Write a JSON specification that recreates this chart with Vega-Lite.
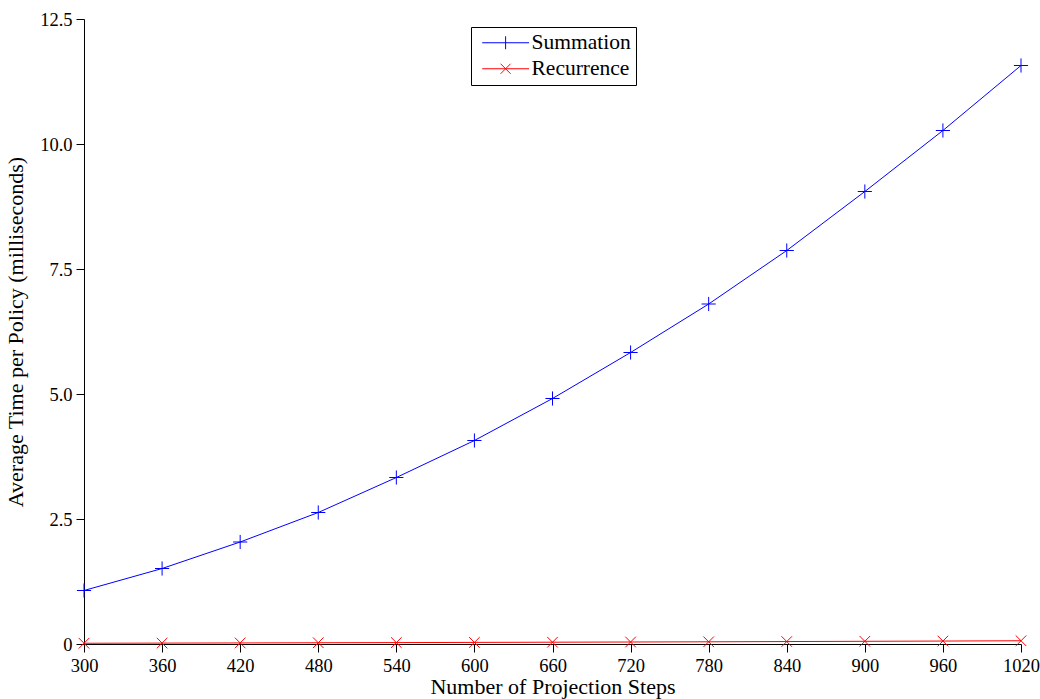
{
  "$schema": "https://vega.github.io/schema/vega-lite/v6.json",
  "width": 937,
  "height": 625,
  "autosize": {"type": "none"},
  "padding": {"left": 84, "top": 19, "right": 19, "bottom": 55},
  "background": "white",
  "config": {
    "view": {"stroke": null},
    "font": "Liberation Serif",
    "legend": {"labelFont": "Liberation Serif", "labelFontSize": 21.5, "labelColor": "black"},
    "axis": {
      "grid": false,
      "domainColor": "black",
      "tickColor": "black",
      "labelColor": "black",
      "titleColor": "black",
      "labelFont": "Liberation Serif",
      "titleFont": "Liberation Serif",
      "labelFontSize": 18.5,
      "titleFontSize": 22,
      "titleFontWeight": "normal",
      "tickSize": 8,
      "domainWidth": 1,
      "tickWidth": 1
    }
  },
  "data": {
    "values": [
      {"steps": 300, "series": "Summation", "time": 1.07},
      {"steps": 360, "series": "Summation", "time": 1.51},
      {"steps": 420, "series": "Summation", "time": 2.04},
      {"steps": 480, "series": "Summation", "time": 2.63},
      {"steps": 540, "series": "Summation", "time": 3.33},
      {"steps": 600, "series": "Summation", "time": 4.07},
      {"steps": 660, "series": "Summation", "time": 4.91},
      {"steps": 720, "series": "Summation", "time": 5.83},
      {"steps": 780, "series": "Summation", "time": 6.80},
      {"steps": 840, "series": "Summation", "time": 7.87},
      {"steps": 900, "series": "Summation", "time": 9.05},
      {"steps": 960, "series": "Summation", "time": 10.27},
      {"steps": 1020, "series": "Summation", "time": 11.57},
      {"steps": 300, "series": "Recurrence", "time": 0.015},
      {"steps": 360, "series": "Recurrence", "time": 0.018},
      {"steps": 420, "series": "Recurrence", "time": 0.021},
      {"steps": 480, "series": "Recurrence", "time": 0.025},
      {"steps": 540, "series": "Recurrence", "time": 0.028},
      {"steps": 600, "series": "Recurrence", "time": 0.032},
      {"steps": 660, "series": "Recurrence", "time": 0.036},
      {"steps": 720, "series": "Recurrence", "time": 0.040},
      {"steps": 780, "series": "Recurrence", "time": 0.044},
      {"steps": 840, "series": "Recurrence", "time": 0.049},
      {"steps": 900, "series": "Recurrence", "time": 0.054},
      {"steps": 960, "series": "Recurrence", "time": 0.059},
      {"steps": 1020, "series": "Recurrence", "time": 0.065}
    ]
  },
  "encoding": {
    "x": {
      "field": "steps",
      "type": "quantitative",
      "scale": {"domain": [300, 1020], "nice": false, "zero": false},
      "axis": {
        "values": [300, 360, 420, 480, 540, 600, 660, 720, 780, 840, 900, 960, 1020],
        "title": "Number of Projection Steps",
        "format": "d",
        "labelPadding": 4,
        "titlePadding": 2,
        "labelFlush": false,
        "labelOverlap": false
      }
    },
    "y": {
      "field": "time",
      "type": "quantitative",
      "scale": {"domain": [0, 12.5], "nice": false},
      "axis": {
        "values": [0, 2.5, 5, 7.5, 10, 12.5],
        "labelExpr": "datum.value == 0 ? '0' : format(datum.value, '.1f')",
        "title": "Average Time per Policy (milliseconds)",
        "labelPadding": 4,
        "titlePadding": 12,
        "labelFlush": false
      }
    },
    "color": {
      "field": "series",
      "type": "nominal",
      "scale": {"domain": ["Summation", "Recurrence"], "range": ["#0000ff", "#ff0000"]}
    }
  },
  "layer": [
    {
      "mark": {"type": "line", "strokeWidth": 1},
      "encoding": {
        "color": {
          "field": "series",
          "type": "nominal",
          "scale": {"domain": ["Summation", "Recurrence"], "range": ["#0000ff", "#ff0000"]},
          "legend": {
            "orient": "none",
            "legendX": 387,
            "legendY": 8,
            "title": null,
            "direction": "vertical",
            "labelFont": "Liberation Serif",
            "labelFontSize": 21.5,
            "labelColor": "black",
            "strokeColor": "black",
            "fillColor": "white",
            "padding": 5,
            "symbolSize": 169,
            "symbolStrokeWidth": 1,
            "rowPadding": 3,
            "labelOffset": 34,
            "encode": {
              "labels": {
                "update": {
                  "font": {"value": "Liberation Serif"},
                  "fontSize": {"value": 21.5}
                }
              },
              "symbols": {
                "update": {
                  "shape": {"signal": "datum.value === 'Summation' ? 'M-0.7,0H6.5M2.9,-1V1' : 'M-0.7,0H6.5M2.13,-0.77L3.67,0.77M2.13,0.77L3.67,-0.77'"},
                  "stroke": {"signal": "datum.value === 'Summation' ? '#0000ff' : '#ff0000'"},
                  "fill": {"value": "transparent"},
                  "opacity": {"value": 1},
                  "strokeWidth": {"value": 1}
                }
              }
            }
          }
        }
      }
    },
    {
      "transform": [{"filter": "datum.series === 'Summation'"}],
      "mark": {"type": "point", "shape": "M-1,0H1M0,-1V1", "filled": false, "strokeWidth": 1, "opacity": 1, "size": 200}
    },
    {
      "transform": [{"filter": "datum.series === 'Recurrence'"}],
      "mark": {"type": "point", "shape": "M-0.75,-0.75L0.75,0.75M-0.75,0.75L0.75,-0.75", "filled": false, "strokeWidth": 1, "opacity": 1, "size": 200}
    }
  ]
}
